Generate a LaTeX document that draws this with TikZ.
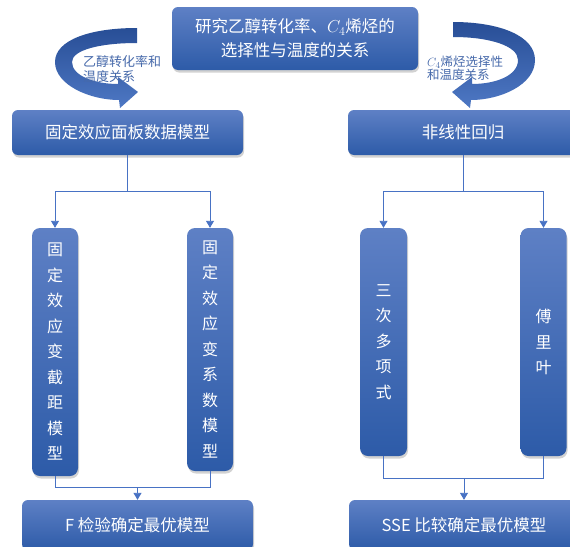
\documentclass[tikz,border=0pt]{standalone}
\usepackage{fontspec}
\setmainfont{Noto Sans CJK SC}
\usetikzlibrary{arrows.meta,shadows}
\definecolor{boxtop}{RGB}{94,128,197}
\definecolor{boxbot}{RGB}{45,91,168}
\definecolor{lineblue}{RGB}{72,114,196}
\definecolor{ribdark}{RGB}{40,78,150}
\definecolor{riblight}{RGB}{78,120,196}
\definecolor{labblue}{RGB}{70,105,170}
\tikzset{
  box/.style={rectangle, rounded corners=6pt, top color=boxtop, bottom color=boxbot,
    draw=none, text=white, align=center, inner sep=0pt,
    drop shadow={opacity=0.35, shadow xshift=1pt, shadow yshift=-2.5pt}},
  hbox/.style={box, font=\fontsize{16.5}{24}\selectfont},
  vbox/.style={box, rounded corners=8pt, font=\fontsize{16}{25.5}\selectfont},
  conn/.style={draw=lineblue, line width=0.9pt},
  connarrow/.style={conn, -{Triangle[width=8pt,length=7pt]}},
  lab/.style={text=labblue, align=left, inner sep=0pt, anchor=west},
  ribbon/.style={top color=ribdark, bottom color=riblight, draw=none}
}
\begin{document}
\begin{tikzpicture}[x=1pt,y=-1pt]
\useasboundingbox (0,0) rectangle (570,546);
\clip (0,0) rectangle (570,546);
\fill[white] (0,0) rectangle (570,546);

% curved ribbon arrows
\shade[ribbon] (137,28) .. controls (90,28) and (55,40) .. (55,62)
  .. controls (55,85) and (90,100) .. (119,100) -- (120,108) -- (138,92) -- (118,77) -- (118,84)
  .. controls (95,84) and (72,76) .. (72,62) .. controls (72,50) and (100,43) .. (137,43) -- cycle;
\shade[ribbon] (453,22) .. controls (500,22) and (535,36) .. (535,60)
  .. controls (535,85) and (500,100) .. (471,100) -- (470,108) -- (452,92) -- (472,77) -- (472,84)
  .. controls (495,84) and (518,76) .. (518,60) .. controls (518,46) and (490,37) .. (453,37) -- cycle;

\node[lab, font=\fontsize{13}{15}\selectfont] (labl) at (83,69) {乙醇转化率和\\温度关系};
\node[lab, font=\fontsize{12.5}{11.5}\selectfont] (labr) at (427,68.5) {$C_4$烯烃选择性\\和温度关系};

% boxes
\node[hbox, minimum width=246pt, minimum height=63pt] (top) at (295,38.5)
  {研究乙醇转化率、$C_4$烯烃的\\选择性与温度的关系};
\node[hbox, minimum width=231pt, minimum height=45pt] (lm) at (127.5,132.5) {固定效应面板数据模型};
\node[hbox, minimum width=230pt, minimum height=45pt] (rm) at (463,132.5) {非线性回归};

\node[vbox, minimum width=46pt, minimum height=248pt] (v1) at (55,352)
  {固\\定\\效\\应\\变\\截\\距\\模\\型};
\node[vbox, minimum width=46pt, minimum height=243pt] (v2) at (210,349.5)
  {固\\定\\效\\应\\变\\系\\数\\模\\型};
\node[vbox, minimum width=47pt, minimum height=228pt] (v3) at (383.5,342)
  {三\\次\\多\\项\\式};
\node[vbox, minimum width=46pt, minimum height=228pt] (v4) at (543.5,342)
  {傅\\里\\叶};

\node[hbox, minimum width=231pt, minimum height=50pt] (bl) at (137.5,525) {F 检验确定最优模型};
\node[hbox, minimum width=230pt, minimum height=50pt] (br) at (464,525) {SSE 比较确定最优模型};

% connectors
\coordinate (jl) at (127.5,191);
\draw[conn] (lm.south) -- (jl);
\draw[connarrow] (jl) -| (v1.north);
\draw[connarrow] (jl) -| (v2.north);

\coordinate (jr) at (463,191);
\draw[conn] (rm.south) -- (jr);
\draw[connarrow] (jr) -| (v3.north);
\draw[connarrow] (jr) -| (v4.north);

\coordinate (jbl) at (137.5,487);
\draw[conn] (v1.south) |- (jbl);
\draw[conn] (v2.south) |- (jbl);
\draw[connarrow] (jbl) -- (bl.north);

\coordinate (jbr) at (464,478);
\draw[conn] (v3.south) |- (jbr);
\draw[conn] (v4.south) |- (jbr);
\draw[connarrow] (jbr) -- (br.north);
\end{tikzpicture}
\end{document}
